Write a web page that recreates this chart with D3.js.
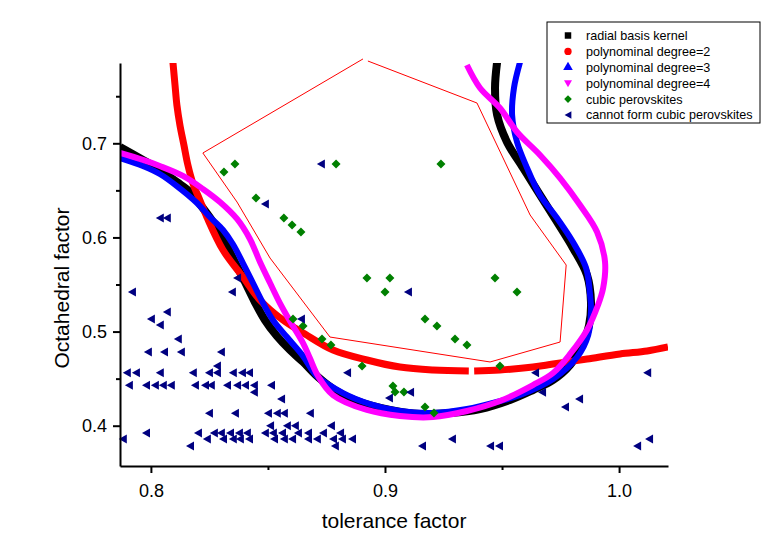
<!DOCTYPE html>
<html>
<head>
<meta charset="utf-8">
<script src="https://d3js.org/d3.v7.min.js"></script>
<style>
  body { margin: 0; background: #fff; }
  text { font-family: Arial, "Liberation Sans", sans-serif; }
</style>
</head>
<body>
<script>
// decision boundaries, [tolerance factor, octahedral factor]
let rbfCurve = [[0.7868,0.6961],[0.7966,0.6823],[0.8038,0.6716],[0.8111,0.6589],[0.8167,0.6483],[0.8222,0.6313],[0.8274,0.6132],[0.8316,0.5951],[0.8359,0.5739],[0.8402,0.5526],[0.8444,0.5314],[0.8487,0.5123],[0.8538,0.4953],[0.8594,0.4804],[0.8650,0.4677],[0.8714,0.4517],[0.8786,0.4379],[0.8880,0.4262],[0.9021,0.4167],[0.9150,0.4124],[0.9278,0.4135],[0.9406,0.4177],[0.9534,0.4273],[0.9632,0.4379],[0.9718,0.4485],[0.9791,0.4645],[0.9842,0.4857],[0.9872,0.5070],[0.9880,0.5314],[0.9863,0.5601],[0.9803,0.5888],[0.9735,0.6164],[0.9662,0.6451],[0.9590,0.6738],[0.9521,0.7014],[0.9479,0.7301],[0.9470,0.7588],[0.9479,0.7864]];
let poly2a = [[0.8094,0.7864],[0.8103,0.7619],[0.8111,0.7407],[0.8124,0.7194],[0.8141,0.6982],[0.8158,0.6769],[0.8179,0.6578],[0.8209,0.6398],[0.8239,0.6217],[0.8308,0.5866],[0.8393,0.5580],[0.8466,0.5335],[0.8564,0.5123],[0.8658,0.4974],[0.8778,0.4804],[0.8923,0.4698],[0.9064,0.4623],[0.9205,0.4592],[0.9358,0.4581]];
let poly2b = [[0.9381,0.4581],[0.9491,0.4592],[0.9632,0.4623],[0.9718,0.4655],[0.9863,0.4708],[1.0004,0.4762],[1.0120,0.4794],[1.0209,0.4836]];
let poly3Curve = [[0.7868,0.6844],[0.7966,0.6759],[0.8038,0.6674],[0.8111,0.6546],[0.8197,0.6366],[0.8252,0.6217],[0.8308,0.6079],[0.8350,0.5930],[0.8393,0.5728],[0.8436,0.5516],[0.8479,0.5303],[0.8521,0.5123],[0.8581,0.4942],[0.8650,0.4740],[0.8709,0.4528],[0.8821,0.4347],[0.8936,0.4230],[0.9064,0.4156],[0.9205,0.4135],[0.9350,0.4177],[0.9491,0.4262],[0.9577,0.4326],[0.9718,0.4496],[0.9821,0.4730],[0.9868,0.4963],[0.9880,0.5229],[0.9876,0.5388],[0.9859,0.5675],[0.9803,0.5951],[0.9735,0.6206],[0.9662,0.6451],[0.9607,0.6738],[0.9564,0.7014],[0.9543,0.7301],[0.9551,0.7588],[0.9577,0.7864]];
let poly4Curve = [[0.7868,0.6897],[0.7966,0.6823],[0.8038,0.6759],[0.8137,0.6653],[0.8222,0.6515],[0.8295,0.6376],[0.8368,0.6196],[0.8423,0.5983],[0.8466,0.5739],[0.8509,0.5516],[0.8551,0.5303],[0.8594,0.5112],[0.8650,0.4878],[0.8679,0.4719],[0.8714,0.4528],[0.8778,0.4326],[0.8923,0.4167],[0.9064,0.4103],[0.9205,0.4092],[0.9350,0.4156],[0.9491,0.4262],[0.9632,0.4432],[0.9718,0.4560],[0.9791,0.4762],[0.9863,0.5017],[0.9910,0.5282],[0.9932,0.5463],[0.9940,0.5739],[0.9906,0.6058],[0.9833,0.6345],[0.9748,0.6631],[0.9662,0.6876],[0.9564,0.7120],[0.9491,0.7375],[0.9406,0.7588],[0.9350,0.7832]];
let regionOutline = [[0.8927,0.7874],[0.9393,0.7428],[0.9620,0.6238],[0.9774,0.5707],[0.9748,0.4889],[0.9449,0.4677],[0.8765,0.4942],[0.8509,0.5781],[0.8368,0.6376],[0.8222,0.6897],[0.8906,0.7896]];

// samples
let cubic = [[0.8312,0.6695],[0.8359,0.6780],[0.8449,0.6419],[0.8568,0.6206],[0.8603,0.6132],[0.8641,0.6058],[0.8607,0.5133],[0.8650,0.5059],[0.8791,0.6780],[0.9239,0.6780],[0.8923,0.5569],[0.9021,0.5569],[0.9000,0.5420],[0.9470,0.5569],[0.9564,0.5420],[0.9171,0.5133],[0.9222,0.5059],[0.9299,0.4921],[0.9350,0.4857],[0.8731,0.4921],[0.8769,0.4857],[0.8902,0.4634],[0.9491,0.4634],[0.9034,0.4422],[0.9043,0.4358],[0.9081,0.4358],[0.9171,0.4199],[0.9209,0.4135]];
let nonCubic = [
  [0.8038,0.6206],[0.8068,0.6206],[0.7919,0.5420],[0.8068,0.5208],[0.8000,0.5133],[0.8038,0.5070],[0.8115,0.4921],[0.7987,0.4783],[0.8056,0.4783],[0.8128,0.4783],[0.8299,0.4783],[0.8282,0.4634],[0.8487,0.6355],[0.8368,0.5569],[0.8346,0.5420],[0.8641,0.5133],
  [0.8726,0.6780],[0.9098,0.5420],[0.8838,0.4563],[0.9107,0.4355],[0.9017,0.4294],[0.9641,0.4563],[0.9671,0.4355],[1.0120,0.4563],[0.9829,0.4284],[0.9769,0.4199],[1.0128,0.3859],[1.0077,0.3784],[0.9158,0.3784],[0.9286,0.3859],[0.9449,0.3784],[0.9487,0.3784],
  [0.7897,0.4563],[0.7936,0.4563],[0.8038,0.4563],[0.8179,0.4563],[0.8248,0.4563],[0.8282,0.4563],[0.8350,0.4563],[0.8389,0.4563],[0.8419,0.4563],
  [0.7906,0.4429],[0.7979,0.4429],[0.8017,0.4429],[0.8051,0.4429],[0.8085,0.4429],[0.8188,0.4429],[0.8231,0.4429],[0.8256,0.4429],[0.8325,0.4429],[0.8368,0.4429],[0.8402,0.4429],[0.8440,0.4429],[0.8513,0.4429],
  [0.8440,0.4355],[0.8556,0.4284],
  [0.8248,0.4132],[0.8359,0.4132],[0.8500,0.4132],[0.8538,0.4132],[0.8568,0.4132],[0.8679,0.4132],
  [0.8509,0.3999],[0.8581,0.3999],[0.8615,0.3999],[0.8769,0.3999],
  [0.7979,0.3922],[0.8201,0.3922],[0.8269,0.3922],[0.8299,0.3922],[0.8338,0.3922],[0.8376,0.3922],[0.8410,0.3922],[0.8487,0.3922],[0.8521,0.3922],[0.8560,0.3922],[0.8628,0.3922],[0.8671,0.3922],[0.8735,0.3922],[0.8808,0.3922],
  [0.7880,0.3859],[0.8239,0.3859],[0.8308,0.3859],[0.8350,0.3859],[0.8380,0.3859],[0.8419,0.3859],[0.8526,0.3859],[0.8568,0.3859],[0.8603,0.3859],[0.8671,0.3859],[0.8709,0.3859],[0.8778,0.3859],[0.8816,0.3859],[0.8859,0.3859],
  [0.8167,0.3784],[0.8786,0.3784]
];

let xTicks = [0.8, 0.9, 1.0], xMinor = [0.85, 0.95];
let yTicks = [0.4, 0.5, 0.6, 0.7], yMinor = [0.45, 0.55, 0.65, 0.75];
let legendNames = ["radial basis kernel", "polynominal degree=2", "polynominal degree=3", "polynominal degree=4", "cubic perovskites", "cannot form cubic perovskites"];

const W = 766, H = 540, pLeft = 120, pRight = 668, pTop = 63, pBottom = 466;
const navy = "#000080", green = "#008000";

let svg = d3.select("body").append("svg").attr("width", W).attr("height", H);
let x = d3.scaleLinear().domain([0.7868, 1.0209]).range([pLeft, pRight]);
let y = d3.scaleLinear().domain([0.3572, 0.7853]).range([pBottom, pTop]);

svg.append("clipPath").attr("id", "plot")
  .append("rect").attr("x", pLeft).attr("y", pTop).attr("width", pRight - pLeft).attr("height", pBottom - pTop);

// outline of the cubic region
svg.append("path")
  .attr("d", d3.line().x(d => x(d[0])).y(d => y(d[1]))(regionOutline))
  .attr("fill", "none").attr("stroke", "red").attr("stroke-width", 1);

let curve = d3.line().x(d => x(d[0])).y(d => y(d[1])).curve(d3.curveCatmullRom);
let g = svg.append("g").attr("clip-path", "url(#plot)");
let bands = [[rbfCurve, "#000", 8], [poly2a, "#ff0000", 7], [poly2b, "#ff0000", 7], [poly3Curve, "#0000ff", 6], [poly4Curve, "#ff00ff", 6]];
bands.forEach(b => {
  g.append("path").attr("d", curve(b[0]))
    .attr("fill", "none").attr("stroke", b[1]).attr("stroke-width", b[2]);
});

const triLeft = "M-4,0L4,-4.5L4,4.5Z";
const diamond = "M0,-4.5L4.5,0L0,4.5L-4.5,0Z";

svg.append("g").selectAll("path").data(cubic).enter().append("path")
  .attr("d", diamond).attr("fill", green)
  .attr("transform", d => `translate(${x(d[0])},${y(d[1])})`);
svg.append("g").selectAll("path").data(nonCubic).enter().append("path")
  .attr("d", triLeft).attr("fill", navy)
  .attr("transform", d => `translate(${x(d[0])},${y(d[1])})`);

// axes
let xAxis = svg.append("g").attr("transform", `translate(0,${pBottom})`)
  .call(d3.axisBottom(x).tickValues(xTicks).tickFormat(d3.format(".1f")).tickSize(7).tickSizeOuter(0));
svg.append("g").attr("transform", `translate(0,${pBottom})`)
  .call(d3.axisBottom(x).tickValues(xMinor).tickFormat("").tickSize(4).tickSizeOuter(0))
  .select(".domain").remove();
let yAxis = svg.append("g").attr("transform", `translate(${pLeft},0)`)
  .call(d3.axisLeft(y).tickValues(yTicks).tickFormat(d3.format(".1f")).tickSize(7).tickSizeOuter(0));
svg.append("g").attr("transform", `translate(${pLeft},0)`)
  .call(d3.axisLeft(y).tickValues(yMinor).tickFormat("").tickSize(4).tickSizeOuter(0))
  .select(".domain").remove();

svg.selectAll(".domain").attr("stroke", "#000").attr("stroke-width", 2);
svg.selectAll(".tick line").attr("stroke", "#000").attr("stroke-width", 2);
svg.selectAll(".tick text").attr("font-size", 18).attr("font-family", "Arial, 'Liberation Sans', sans-serif").attr("fill", "#000");
xAxis.selectAll(".tick text").attr("y", 18);
yAxis.selectAll(".tick text").attr("x", -13);

svg.append("text").attr("x", 394).attr("y", 528).attr("text-anchor", "middle")
  .attr("font-size", 21).text("tolerance factor");
svg.append("text").attr("transform", "translate(69,288) rotate(-90)").attr("text-anchor", "middle")
  .attr("font-size", 21).text("Octahedral factor");

// legend
let lg = svg.append("g");
lg.append("rect").attr("x", 547).attr("y", 22).attr("width", 213).attr("height", 101)
  .attr("fill", "#fff").attr("stroke", "#000").attr("stroke-width", 1);
let legendSyms = [
  d3.symbol(d3.symbolSquare, 42)(), d3.symbol(d3.symbolCircle, 42)(),
  d3.symbol(d3.symbolTriangle, 40)(), "M-4,-3L4,-3L0,4Z", diamond, triLeft
];
let legendColors = ["#000", "#ff0000", "#0000ff", "#ff00ff", green, navy];
legendNames.forEach((name, i) => {
  let ly = 35.5 + i * 15.9;
  lg.append("path").attr("d", legendSyms[i]).attr("fill", legendColors[i])
    .attr("transform", `translate(568,${ly}) scale(${i >= 4 ? 0.85 : 1})`);
  lg.append("text").attr("x", 586).attr("y", ly).attr("dy", "0.35em")
    .attr("font-size", 12.6).attr("fill", "#000").text(name);
});
</script>
</body>
</html>
